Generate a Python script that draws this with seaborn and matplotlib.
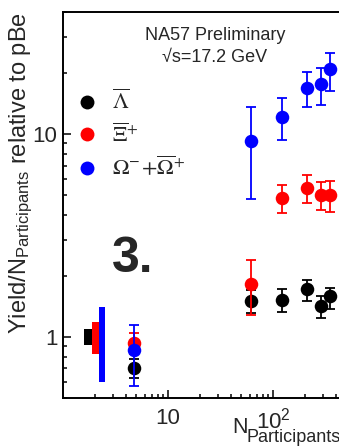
import numpy as np
import pandas as pd
import matplotlib
matplotlib.use("Agg")
import matplotlib.pyplot as plt
from matplotlib.ticker import FixedLocator, FixedFormatter, NullFormatter
from matplotlib.font_manager import FontProperties
from matplotlib.lines import Line2D
import seaborn as sns

# Number of participants for the p-Pb point and the four Pb-Pb centrality classes
npart = [4.75, 62, 121, 209, 290, 349]

# Anti-Lambda
lam_y = [0.70, 1.50, 1.515, 1.72, 1.415, 1.585]
lam_lo = [0.625, 1.31, 1.32, 1.50, 1.246, 1.38]
lam_hi = [0.78, 1.70, 1.72, 1.91, 1.59, 1.74]

# anti-Xi+
xi_y = [0.93, 1.83, 4.82, 5.41, 5.01, 5.00]
xi_lo = [0.82, 1.28, 4.07, 4.56, 4.23, 4.15]
xi_hi = [1.05, 2.40, 5.61, 6.31, 5.83, 5.89]

# Omega- + anti-Omega+
om_y = [0.86, 9.27, 12.2, 16.9, 17.6, 20.9]
om_lo = [0.574, 4.79, 9.34, 13.6, 13.9, 16.4]
om_hi = [1.15, 13.6, 15.0, 20.3, 21.2, 25.2]

# relative normalisation uncertainty of the pBe reference
norm_err = [0.09, 0.18, 0.40]

labels = [r"$\overline{\Lambda}$", r"$\overline{\Xi}^{+}$",
          r"$\Omega^{-}\!+\!\overline{\Omega}^{+}$"]
colors = ["#000000", "#ff0000", "#0000ff"]

sns.set_style("white")
plt.rcParams["font.family"] = ["Liberation Sans", "DejaVu Sans"]
plt.rcParams["mathtext.fontset"] = "custom"
plt.rcParams["mathtext.rm"] = "Liberation Sans"
plt.rcParams["mathtext.it"] = "Liberation Sans:italic"
plt.rcParams["mathtext.bf"] = "Liberation Sans:bold"

rows = []
for name, ys, lo, hi in zip(labels, [lam_y, xi_y, om_y], [lam_lo, xi_lo, om_lo],
                            [lam_hi, xi_hi, om_hi]):
    for x, y, l, h in zip(npart, ys, lo, hi):
        rows.append(dict(species=name, npart=x, ratio=y, lo=l, hi=h))
df = pd.DataFrame(rows)

fig = plt.figure(figsize=(3.39, 4.46), dpi=100)
ax = fig.add_axes([0.1858, 0.1076, 0.929, 0.8655])
ax.set_xscale("log")
ax.set_yscale("log")
ax.set_xlim(1, 1000)
ax.set_ylim(0.5, 40)

# normalisation boxes at unity
box_edges = [(1.6, 1.9), (1.9, 2.2), (2.2, 2.5)]
for (x0, x1), e, c in zip(box_edges, norm_err, colors):
    ax.fill_between([x0, x1], [1 - e] * 2, [1 + e] * 2, color=c, lw=0, zorder=2)

z = 3
for name, c in zip(labels, colors):
    d = df[df.species == name]
    yerr = np.vstack([d.ratio - d.lo, d.hi - d.ratio])
    ax.errorbar(d.npart, d.ratio, yerr=yerr, fmt="none", ecolor=c,
                elinewidth=1.3, capsize=3.5, capthick=1.3, zorder=z)
    sns.scatterplot(data=d, x="npart", y="ratio", color=c, s=95, linewidth=0,
                    ax=ax, legend=False, zorder=z + 1)
    z += 2

ax.set_xlabel("")
ax.set_ylabel(r"Yield/N$_{\mathrm{Participants}}$ relative to pBe",
              fontsize=17, loc="top")
ax.yaxis.set_label_coords(-0.088, 1.0)

ax.xaxis.set_major_locator(FixedLocator([10, 100, 1000]))
ax.xaxis.set_major_formatter(FixedFormatter(["10", r"$10^{2}$", r"$10^{3}$"]))
xminor = [m * 10 ** k for k in range(0, 3) for m in range(2, 10)]
ax.xaxis.set_minor_locator(FixedLocator(xminor))
ax.xaxis.set_minor_formatter(NullFormatter())
ax.yaxis.set_major_locator(FixedLocator([1, 10]))
ax.yaxis.set_major_formatter(FixedFormatter(["1", "10"]))
yminor = [0.5, 0.6, 0.7, 0.8, 0.9] + list(range(2, 10)) + [20, 30, 40]
ax.yaxis.set_minor_locator(FixedLocator(yminor))
ax.yaxis.set_minor_formatter(NullFormatter())
ax.tick_params(which="both", direction="in", labelsize=16, width=1.1,
               bottom=True, left=True, top=False, right=False,
               color="black")
ax.tick_params(axis="x", which="both", pad=7)
ax.tick_params(axis="y", which="both", pad=4)
ax.tick_params(which="major", length=6)
ax.tick_params(which="minor", length=3.2)
for s in ax.spines.values():
    s.set_linewidth(1.4)
    s.set_color("black")

# x-axis title: N with a large subscript
fig.text(232 / 339, (446 - 433) / 446, "N", fontsize=15.5,
         va="baseline", ha="left")
fig.text(247 / 339, (446 - 442) / 446, "Participants", fontsize=13,
         va="baseline", ha="left")

fig.text(215 / 339, (446 - 35) / 446, "NA57 Preliminary", fontsize=13,
         ha="center", va="center")
fig.text(215 / 339, (446 - 57) / 446, "\u221as=17.2 GeV", fontsize=13,
         ha="center", va="center")

fig.text(112 / 339, (446 - 272) / 446, "3.", fontsize=36, fontweight="bold",
         ha="left", va="baseline")

handles = [Line2D([], [], ls="none", marker="o", markersize=10, color=c,
                  markeredgewidth=0) for c in colors]
leg = ax.legend(handles, labels, loc="upper left",
                bbox_to_anchor=(76 / 339, (446 - 90) / 446),
                bbox_transform=fig.transFigure, frameon=False,
                prop=FontProperties(family="Liberation Serif", size=16,
                                    math_fontfamily="stix"),
                handlelength=1.0, handletextpad=0.6, labelspacing=0.42,
                borderpad=0, borderaxespad=0)

fig.savefig("out.png", dpi=100)
